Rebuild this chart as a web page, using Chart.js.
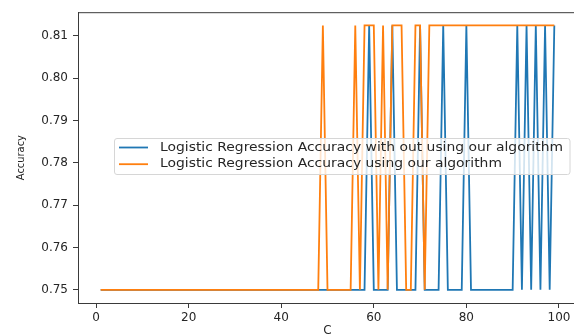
<!DOCTYPE html>
<html>
<head>
<meta charset="utf-8">
<script src="https://cdn.jsdelivr.net/npm/chart.js@4/dist/chart.umd.min.js"></script>
<style>
  html, body { margin: 0; padding: 0; background: #fff; overflow: hidden; width: 574px; height: 334px; }
  canvas { display: block; }
</style>
</head>
<body>
<canvas id="c" width="600" height="350"></canvas>
<script>
// ---- data ----
const cValues = [
  1, 2, 3, 4, 5, 6, 7, 8, 9, 10,
  11, 12, 13, 14, 15, 16, 17, 18, 19, 20,
  21, 22, 23, 24, 25, 26, 27, 28, 29, 30,
  31, 32, 33, 34, 35, 36, 37, 38, 39, 40,
  41, 42, 43, 44, 45, 46, 47, 48, 49, 50,
  51, 52, 53, 54, 55, 56, 57, 58, 59, 60,
  61, 62, 63, 64, 65, 66, 67, 68, 69, 70,
  71, 72, 73, 74, 75, 76, 77, 78, 79, 80,
  81, 82, 83, 84, 85, 86, 87, 88, 89, 90,
  91, 92, 93, 94, 95, 96, 97, 98, 99
];
const accWithout = [
  0.75, 0.75, 0.75, 0.75, 0.75, 0.75, 0.75, 0.75, 0.75, 0.75,
  0.75, 0.75, 0.75, 0.75, 0.75, 0.75, 0.75, 0.75, 0.75, 0.75,
  0.75, 0.75, 0.75, 0.75, 0.75, 0.75, 0.75, 0.75, 0.75, 0.75,
  0.75, 0.75, 0.75, 0.75, 0.75, 0.75, 0.75, 0.75, 0.75, 0.75,
  0.75, 0.75, 0.75, 0.75, 0.75, 0.75, 0.75, 0.75, 0.75, 0.75,
  0.75, 0.75, 0.75, 0.75, 0.75, 0.75, 0.75, 0.75, 0.8125, 0.75,
  0.75, 0.75, 0.75, 0.8125, 0.75, 0.75, 0.75, 0.75, 0.75, 0.8125,
  0.75, 0.75, 0.75, 0.75, 0.8125, 0.75, 0.75, 0.75, 0.75, 0.8125,
  0.75, 0.75, 0.75, 0.75, 0.75, 0.75, 0.75, 0.75, 0.75, 0.75,
  0.8125, 0.75, 0.8125, 0.75, 0.8125, 0.75, 0.8125, 0.75, 0.8125
];
const accWith = [
  0.75, 0.75, 0.75, 0.75, 0.75, 0.75, 0.75, 0.75, 0.75, 0.75,
  0.75, 0.75, 0.75, 0.75, 0.75, 0.75, 0.75, 0.75, 0.75, 0.75,
  0.75, 0.75, 0.75, 0.75, 0.75, 0.75, 0.75, 0.75, 0.75, 0.75,
  0.75, 0.75, 0.75, 0.75, 0.75, 0.75, 0.75, 0.75, 0.75, 0.75,
  0.75, 0.75, 0.75, 0.75, 0.75, 0.75, 0.75, 0.75, 0.8125, 0.75,
  0.75, 0.75, 0.75, 0.75, 0.75, 0.8125, 0.75, 0.8125, 0.8125, 0.8125,
  0.75, 0.8125, 0.75, 0.8125, 0.8125, 0.8125, 0.75, 0.75, 0.8125, 0.8125,
  0.75, 0.8125, 0.8125, 0.8125, 0.8125, 0.8125, 0.8125, 0.8125, 0.8125, 0.8125,
  0.8125, 0.8125, 0.8125, 0.8125, 0.8125, 0.8125, 0.8125, 0.8125, 0.8125, 0.8125,
  0.8125, 0.8125, 0.8125, 0.8125, 0.8125, 0.8125, 0.8125, 0.8125, 0.8125
];
const seriesLabels = [
  'Logistic Regression Accuracy with out using our algorithm',
  'Logistic Regression Accuracy using our algorithm'
];
const xTickValues = [0, 20, 40, 60, 80, 100];
const yTickValues = [0.75, 0.76, 0.77, 0.78, 0.79, 0.80, 0.81];
const xTitle = 'C';
const yTitle = 'Accuracy';

// ---- styles ----
const BLUE = '#1f77b4';
const ORANGE = '#ff7f0e';
const AXIS = '#3a3a3a';
const TEXT = '#262626';
const FONT = "'DejaVu Sans', 'Liberation Sans', sans-serif";

function toPoints(ys) { return cValues.map((x, i) => ({ x: x, y: ys[i] })); }

const framePlugin = {
  id: 'frame',
  afterDatasetsDraw(chart) {
    const { ctx, chartArea: a } = chart;
    ctx.save();
    ctx.strokeStyle = AXIS;
    ctx.lineWidth = 1;
    ctx.beginPath();
    ctx.moveTo(a.left, a.top + 0.5);
    ctx.lineTo(a.right, a.top + 0.5);
    ctx.moveTo(a.right - 0.5, a.top);
    ctx.lineTo(a.right - 0.5, a.bottom);
    ctx.stroke();
    ctx.restore();
  }
};

const legendPlugin = {
  id: 'boxLegend',
  afterDraw(chart) {
    const ctx = chart.ctx;
    const x0 = 114.5, y0 = 138.5, w = 455.5, h = 36, r = 2.5;
    ctx.save();
    ctx.beginPath();
    ctx.moveTo(x0 + r, y0);
    ctx.lineTo(x0 + w - r, y0);
    ctx.quadraticCurveTo(x0 + w, y0, x0 + w, y0 + r);
    ctx.lineTo(x0 + w, y0 + h - r);
    ctx.quadraticCurveTo(x0 + w, y0 + h, x0 + w - r, y0 + h);
    ctx.lineTo(x0 + r, y0 + h);
    ctx.quadraticCurveTo(x0, y0 + h, x0, y0 + h - r);
    ctx.lineTo(x0, y0 + r);
    ctx.quadraticCurveTo(x0, y0, x0 + r, y0);
    ctx.closePath();
    ctx.fillStyle = 'rgba(255,255,255,0.8)';
    ctx.fill();
    ctx.strokeStyle = '#d6d6d6';
    ctx.lineWidth = 1;
    ctx.stroke();
    const items = [chart.data.datasets[0], chart.data.datasets[1]];
    ctx.font = '12.5px ' + FONT;
    const sx = 403 / ctx.measureText(items[0].label).width;
    items.forEach((ds, i) => {
      const y = 147.5 + i * 16.7;
      ctx.strokeStyle = ds.borderColor;
      ctx.lineWidth = 1.8;
      ctx.beginPath();
      ctx.moveTo(119, y);
      ctx.lineTo(148, y);
      ctx.stroke();
      ctx.save();
      ctx.translate(160, y);
      ctx.scale(sx, 1);
      ctx.fillStyle = TEXT;
      ctx.font = '12.5px ' + FONT;
      ctx.textBaseline = 'middle';
      ctx.textAlign = 'left';
      ctx.fillText(ds.label, 0, 0);
      ctx.restore();
    });
    ctx.restore();
  }
};

new Chart(document.getElementById('c'), {
  type: 'line',
  data: {
    datasets: [
      { label: seriesLabels[0], data: toPoints(accWithout), borderColor: BLUE, backgroundColor: BLUE,
        borderWidth: 1.8, pointRadius: 0, tension: 0, fill: false, order: 1 },
      { label: seriesLabels[1], data: toPoints(accWith), borderColor: ORANGE, backgroundColor: ORANGE,
        borderWidth: 1.8, pointRadius: 0, tension: 0, fill: false, order: 0 }
    ]
  },
  options: {
    responsive: false,
    devicePixelRatio: 1,
    animation: false,
    events: [],
    layout: { padding: { left: 0, top: 11, right: 23, bottom: 0 } },
    plugins: { legend: { display: false }, tooltip: { enabled: false } },
    scales: {
      x: {
        type: 'linear',
        min: -3.9,
        max: 103.9,
        afterFit(s) { s.height = 47; },
        afterBuildTicks(s) { s.ticks = xTickValues.map(v => ({ value: v })); },
        grid: { drawOnChartArea: false, drawTicks: true, tickLength: 5, color: AXIS, tickWidth: 1 },
        border: { display: true, color: AXIS, width: 1 },
        ticks: { color: TEXT, font: { family: FONT, size: 12 }, padding: 3, maxRotation: 0,
                 callback: v => String(v) },
        title: { display: true, text: xTitle, color: TEXT, font: { family: FONT, size: 12 },
                 padding: { top: 0, bottom: 12 } }
      },
      y: {
        type: 'linear',
        min: 0.746875,
        max: 0.815625,
        afterFit(s) { s.width = 78; },
        afterBuildTicks(s) { s.ticks = yTickValues.map(v => ({ value: v })); },
        grid: { drawOnChartArea: false, drawTicks: true, tickLength: 5, color: AXIS, tickWidth: 1 },
        border: { display: true, color: AXIS, width: 1 },
        ticks: { color: TEXT, font: { family: FONT, size: 12 }, padding: 5,
                 callback: v => Number(v).toFixed(2) },
        title: { display: true, text: yTitle, color: TEXT,
                 font: { family: "'DejaVu Sans Condensed', 'Liberation Sans Narrow', 'DejaVu Sans', sans-serif", size: 11 },
                 padding: { top: 15, bottom: 0 } }
      }
    }
  },
  plugins: [framePlugin, legendPlugin]
});
</script>
</body>
</html>
